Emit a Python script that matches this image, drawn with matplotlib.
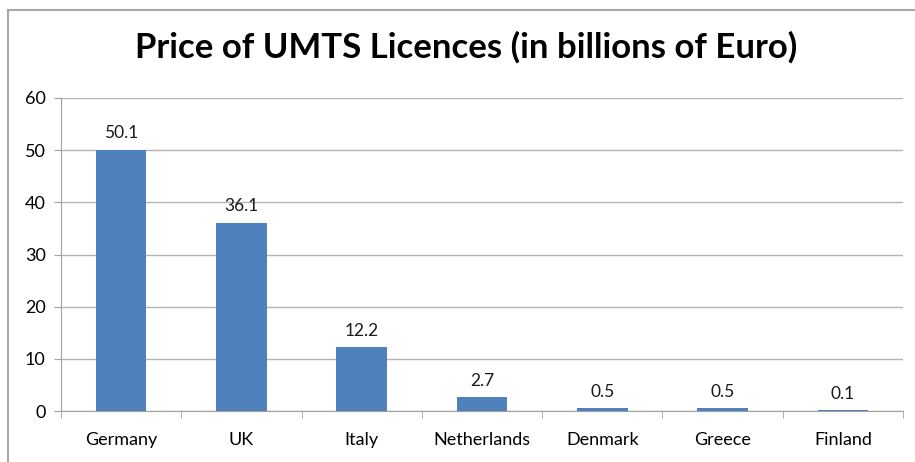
import matplotlib.pyplot as plt
from matplotlib.lines import Line2D

countries = ['Germany', 'UK', 'Italy', 'Netherlands', 'Denmark', 'Greece', 'Finland']
prices = [50.1, 36.1, 12.2, 2.7, 0.5, 0.5, 0.1]

plt.rcParams['font.family'] = ['Lato', 'DejaVu Sans']

fig = plt.figure(figsize=(9.15, 4.62), dpi=100)
ax = fig.add_axes([61 / 915, 1 - 411 / 462, (903 - 61) / 915, (411 - 98) / 462])

x = range(len(countries))
bars = ax.bar(x, prices, width=0.42, color='#4F81BD', zorder=3)
for xi, v in zip(x, prices):
    ax.text(xi, v + 1.6, f'{v}', ha='center', va='bottom', fontsize=12.5, color='#1a1a1a')

ax.set_xlim(-0.5, len(countries) - 0.5)
ax.set_ylim(0, 60)
ax.set_yticks(range(0, 61, 10))
ax.set_xticks(list(x))
ax.set_xticklabels(countries, fontsize=13)
ax.set_xticks([i + 0.5 for i in range(-1, len(countries))], minor=True)
ax.tick_params(axis='x', which='major', length=0, pad=15)
ax.tick_params(axis='x', which='minor', length=5, color='#a0a0a0', direction='out')
ax.tick_params(axis='y', length=5, color='#a0a0a0', labelsize=13, pad=6)
ax.grid(axis='y', color='#b4b4b4', linewidth=1, zorder=0)
for s in ['top', 'right']:
    ax.spines[s].set_visible(False)
for s in ['left', 'bottom']:
    ax.spines[s].set_color('#a0a0a0')

fig.text(466 / 915, 1 - 47 / 462, 'Price of UMTS Licences (in billions of Euro)',
         ha='center', va='center', fontsize=25, fontweight='bold')

# outer chart border (top and left edges visible)
fig.add_artist(Line2D([8 / 915, 1], [1 - 10 / 462, 1 - 10 / 462], color='#a8a8a8', lw=1.5))
fig.add_artist(Line2D([8 / 915, 8 / 915], [0, 1 - 10 / 462], color='#a8a8a8', lw=1.5))

fig.savefig('out.png', dpi=100)
